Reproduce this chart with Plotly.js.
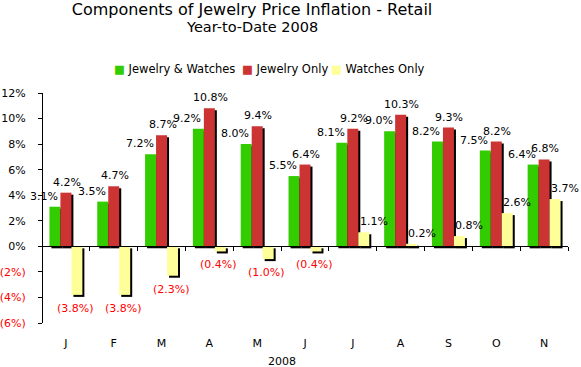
<!DOCTYPE html>
<html>
<head>
<meta charset="utf-8">
<script src="https://cdn.plot.ly/plotly-3.0.1.min.js"></script>
<style>html,body{margin:0;padding:0;background:#fff;}#chart{width:581px;height:367px;}</style>
</head>
<body>
<div id="chart"></div>
<script>
// ---- data ----
const months = ['Jan','Feb','Mar','Apr','May','Jun','Jul','Aug','Sep','Oct','Nov'];
const monthLabels = ['J','F','M','A','M','J','J','A','S','O','N'];
const seriesNames = ['Jewelry & Watches','Jewelry Only','Watches Only'];
const jewelryWatches = [3.1,3.5,7.2,9.2,8.0,5.5,8.1,9.0,8.2,7.5,6.4];
const jewelryOnly    = [4.2,4.7,8.7,10.8,9.4,6.4,9.2,10.3,9.3,8.2,6.8];
const watchesOnly    = [-3.8,-3.8,-2.3,-0.4,-1.0,-0.4,1.1,0.2,0.8,2.6,3.7];
const yTickVals = [-6,-4,-2,0,2,4,6,8,10,12];

// ---- style ----
const colors = ['#33CC00','#CC3333','#FFFF99'];
const FONT = 'DejaVu Sans, Verdana, sans-serif';
const Y_RANGE = [-6,12];
const X_RANGE = [-0.5,10.5];
const M = {l:42, r:13, t:93, b:44};
const W = 581, H = 367;
const plotW = W-M.l-M.r, plotH = H-M.t-M.b;
const dx = 2/(plotW/(X_RANGE[1]-X_RANGE[0]));
const dy = 2/(plotH/(Y_RANGE[1]-Y_RANGE[0]));
const seriesVals = [jewelryWatches, jewelryOnly, watchesOnly];
const px2x = px => (px-M.l)/plotW;
const px2y = py => (H-M.b-py)/plotH;

const traces = [];
// shadows (lower layer, offset 2px right / 2px down)
seriesVals.forEach((v,i)=>{
  traces.push({type:'bar', x:months, y:v, xaxis:'x', yaxis:'y',
    marker:{color:'#000000', line:{width:0}}, showlegend:false, hoverinfo:'skip'});
});
// coloured bars
seriesVals.forEach((v,i)=>{
  traces.push({type:'bar', name:seriesNames[i], x:months, y:v, xaxis:'x2', yaxis:'y2',
    marker:{color:colors[i], line:{width:0}}, showlegend:false});
});

function fmt(v){ return v<0 ? '('+Math.abs(v).toFixed(1)+'%)' : v.toFixed(1)+'%'; }
const annotations = [];
const posShift = [-11, 1, 10];
seriesVals.forEach((v,i)=>{
  v.forEach((val,j)=>{
    const neg = val<0;
    annotations.push({xref:'x2', yref:'y2', x:months[j], y:val, text:fmt(val),
      showarrow:false, xanchor:'center', yanchor: neg?'top':'bottom',
      xshift:(i-1)*11 + (neg ? -1.5 : posShift[i]), yshift: neg? -5 : 2,
      font:{family:FONT, size:11, color: neg ? '#FF0000' : '#000000'}});
  });
});
// x-axis title
annotations.push({xref:'paper', yref:'paper', x:px2x(282), y:px2y(361),
  text:'2008', showarrow:false, xanchor:'center', yanchor:'middle',
  font:{family:FONT, size:11, color:'#000'}});
// subtitle
annotations.push({xref:'paper', yref:'paper', x:px2x(252), y:px2y(27),
  text:'Year-to-Date 2008', showarrow:false, xanchor:'center', yanchor:'middle',
  font:{family:FONT, size:14.5, color:'#000'}});
// legend
const legendX = [112, 240, 329];
seriesNames.forEach((n,i)=>{
  annotations.push({xref:'paper', yref:'paper', x:px2x(legendX[i]), y:px2y(69),
    text:'<span style="color:'+colors[i]+'">■</span> '+n, showarrow:false,
    xanchor:'left', yanchor:'middle', font:{family:FONT, size:11.5, color:'#000'}});
});

const yTickText = yTickVals.map(v=> v<0 ? '<span style="color:#FF0000">('+Math.abs(v)+'%)</span>' : v+'%');

const layout = {
  width:W, height:H,
  margin:{l:M.l, r:M.r, t:M.t, b:M.b, pad:0},
  paper_bgcolor:'#ffffff', plot_bgcolor:'rgba(0,0,0,0)',
  font:{family:FONT, size:11, color:'#000'},
  title:{text:'Components of Jewelry Price Inflation - Retail',
    font:{family:FONT, size:16, color:'#000'}, xref:'container', x:252/W, xanchor:'center',
    yref:'container', y:1-9/H, yanchor:'middle'},
  barmode:'group', bargap:0.311, bargroupgap:0,
  showlegend:false,
  xaxis:{type:'category', categoryarray:months, categoryorder:'array', range:[X_RANGE[0]-dx, X_RANGE[1]-dx],
    visible:false, fixedrange:true},
  yaxis:{range:[Y_RANGE[0]+dy, Y_RANGE[1]+dy], visible:false, fixedrange:true},
  xaxis2:{type:'category', categoryarray:months, categoryorder:'array', overlaying:'x', anchor:'free',
    position:(0-Y_RANGE[0])/(Y_RANGE[1]-Y_RANGE[0]), range:X_RANGE,
    tickmode:'array', tickvals:months, ticktext:monthLabels, tickson:'boundaries',
    ticks:'outside', ticklen:4, tickcolor:'#000', showline:true, linecolor:'#000', linewidth:1,
    showgrid:false, zeroline:false, ticklabelstandoff:86, tickfont:{family:FONT, size:11, color:'#000'}},
  yaxis2:{overlaying:'y', anchor:'free', position:0, side:'left', range:Y_RANGE,
    tickmode:'array', tickvals:yTickVals, ticktext:yTickText,
    ticks:'outside', ticklen:4, tickcolor:'#000', showline:true, linecolor:'#000', linewidth:1,
    showgrid:false, zeroline:false, ticklabelstandoff:10, tickfont:{family:FONT, size:11, color:'#000'}},
  annotations:annotations
};
Plotly.newPlot('chart', traces, layout, {displayModeBar:false, staticPlot:true});
</script>
</body>
</html>
